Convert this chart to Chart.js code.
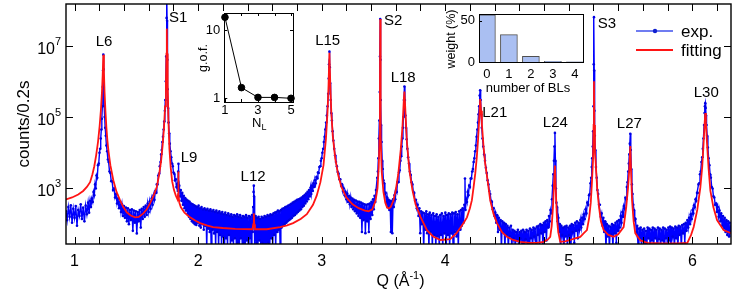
<!DOCTYPE html>
<html><head><meta charset="utf-8">
<script src="https://cdn.jsdelivr.net/npm/chart.js@4.4.1/dist/chart.umd.min.js"></script>
<style>
html,body{margin:0;padding:0;background:#fff;}
#wrap{position:relative;width:747px;height:295px;overflow:hidden;}
canvas{position:absolute;}
</style></head><body>
<div id="wrap">
<canvas id="main" width="747" height="295" style="left:0;top:0"></canvas>
<canvas id="gof" width="110" height="132" style="left:192px;top:0"></canvas>
<canvas id="bls" width="150" height="100" style="left:440px;top:0"></canvas>
</div>
<script>
// ---------------- data ----------------
const expPoints = [
[0.931,230],[0.940,130],[0.950,300],[0.960,160],[0.970,340],[0.980,110],[0.990,270],[1.000,150],[1.010,320],[1.020,90],
[1.030,250],[1.040,170],[1.050,360],[1.060,140],[1.070,290],[1.080,120],[1.090,330],[1.100,190],[1.110,400],[1.118,210],
[1.126,450],[1.133,300],[1.140,520],[1.147,420],[1.154,800],[1.160,650],[1.166,1300],[1.172,1000],[1.178,2300],[1.184,2000],
[1.190,4500],[1.196,5000],[1.202,10000],[1.207,13000],[1.212,25000],[1.217,45000],[1.221,90000],[1.225,200000],[1.229,700000],[1.231,2000000],
[1.233,5600000],[1.235,2200000],[1.237,700000],[1.240,200000],[1.244,100000],[1.248,50000],[1.253,30000],[1.258,16000],[1.264,11000],[1.270,6500],
[1.276,5500],[1.283,3000],[1.290,2700],[1.297,1600],[1.304,1600],[1.312,900],[1.320,1000],[1.328,560],[1.336,700],[1.344,380],
[1.352,520],[1.360,280],[1.368,430],[1.376,220],[1.384,360],[1.392,170],[1.400,320],[1.408,150],[1.416,290],[1.424,120],
[1.432,280],[1.440,100],[1.448,250],[1.456,130],[1.464,260],[1.472,65],[1.480,240],[1.488,110],[1.496,230],[1.504,55],
[1.512,220],[1.520,120],[1.528,250],[1.536,80],[1.544,270],[1.552,140],[1.560,300],[1.568,160],[1.576,330],[1.584,180],
[1.592,380],[1.600,220],[1.608,430],[1.616,270],[1.624,520],[1.632,350],[1.640,650],[1.647,480],[1.654,850],[1.660,750],
[1.666,1300],[1.672,1300],[1.678,2300],[1.684,2600],[1.690,4200],[1.696,5500],[1.701,9000],[1.706,12000],[1.711,20000],[1.716,28000],
[1.721,45000],[1.726,75000],[1.731,150000],[1.735,300000],[1.739,1000000],[1.742,5000000],[1.745,60000000],[1.747,300000000],[1.749,50000000],[1.751,4000000],
[1.754,600000],[1.757,180000],[1.761,70000],[1.766,35000],[1.771,18000],[1.777,11000],[1.783,7500],[1.789,5000],[1.795,4200],[1.801,2800],
[1.807,2600],[1.813,1700],[1.819,1800],[1.825,1100],[1.831,1300],[1.836,850],[1.839,3000],[1.841,4900],[1.843,900],[1.848,1200],
[1.854,600],[1.860,900],[1.866,450],[1.872,750],[1.878,350],[1.884,620],[1.890,280],[1.896,540],[1.902,240],[1.908,480],
[1.914,190],[1.920,450],[1.926,160],[1.932,420],[1.938,140],[1.944,380],[1.950,120],[1.956,360],[1.962,110],[1.968,340],
[1.974,100],[1.980,320],[1.986,95],[1.992,300],[1.998,110],[2.004,330],[2.010,90],[2.016,280],[2.022,80],[2.028,300],
[2.034,100],[2.040,260],[2.046,70],[2.052,280],[2.058,90],[2.064,250],[2.070,20],[2.076,270],[2.082,75],[2.088,240],
[2.094,60],[2.100,260],[2.106,20],[2.112,230],[2.118,70],[2.124,250],[2.130,55],[2.136,220],[2.142,20],[2.148,240],
[2.154,60],[2.160,210],[2.166,20],[2.172,230],[2.178,50],[2.184,200],[2.190,20],[2.196,220],[2.202,45],[2.208,190],
[2.214,20],[2.220,210],[2.226,40],[2.232,180],[2.238,20],[2.244,200],[2.250,50],[2.256,170],[2.262,20],[2.268,190],
[2.274,35],[2.280,160],[2.286,20],[2.292,180],[2.298,40],[2.304,170],[2.310,20],[2.316,190],[2.322,30],[2.328,160],
[2.334,20],[2.340,180],[2.346,40],[2.352,150],[2.358,20],[2.364,170],[2.370,30],[2.376,160],[2.382,20],[2.388,180],
[2.394,35],[2.400,150],[2.406,20],[2.412,170],[2.418,40],[2.424,160],[2.430,20],[2.436,180],[2.442,60],[2.446,300],
[2.449,800],[2.451,1200],[2.453,600],[2.456,150],[2.460,20],[2.466,170],[2.472,30],[2.478,150],[2.484,20],[2.490,160],
[2.496,35],[2.502,140],[2.508,20],[2.514,160],[2.520,30],[2.526,150],[2.532,20],[2.538,170],[2.544,25],[2.550,160],
[2.556,20],[2.562,180],[2.568,30],[2.574,170],[2.580,20],[2.586,190],[2.592,40],[2.598,180],[2.604,20],[2.610,200],
[2.616,50],[2.622,210],[2.628,20],[2.634,220],[2.640,60],[2.646,240],[2.652,70],[2.658,230],[2.664,20],[2.670,250],
[2.676,80],[2.682,270],[2.688,90],[2.694,280],[2.700,100],[2.706,300],[2.712,110],[2.718,310],[2.724,120],[2.730,330],
[2.736,130],[2.742,350],[2.748,140],[2.754,370],[2.760,150],[2.766,400],[2.772,170],[2.778,420],[2.784,180],[2.790,450],
[2.796,200],[2.802,480],[2.808,220],[2.814,500],[2.820,240],[2.826,520],[2.832,260],[2.838,560],[2.844,300],[2.850,600],
[2.856,330],[2.862,650],[2.868,380],[2.874,720],[2.880,430],[2.886,800],[2.892,500],[2.898,900],[2.904,600],[2.910,1050],
[2.916,700],[2.922,1200],[2.928,850],[2.934,1400],[2.940,1100],[2.946,1700],[2.952,1400],[2.958,2100],[2.964,1900],[2.970,2800],
[2.976,2700],[2.982,4000],[2.988,4200],[2.994,6000],[3.000,7000],[3.006,10000],[3.012,13000],[3.018,20000],[3.024,28000],[3.030,45000],
[3.036,70000],[3.042,110000],[3.048,200000],[3.053,450000],[3.057,1200000],[3.060,3000000],[3.063,6800000],[3.066,2500000],[3.069,900000],[3.073,300000],
[3.078,130000],[3.083,80000],[3.089,40000],[3.095,22000],[3.102,13000],[3.109,8500],[3.116,5500],[3.123,4200],[3.130,2900],[3.137,2600],
[3.144,1800],[3.151,1800],[3.158,1200],[3.165,1300],[3.172,850],[3.179,1000],[3.186,650],[3.193,800],[3.200,500],[3.207,720],
[3.214,420],[3.221,620],[3.228,360],[3.235,560],[3.242,300],[3.249,520],[3.256,260],[3.263,480],[3.270,230],[3.277,460],
[3.284,200],[3.291,430],[3.298,170],[3.305,420],[3.312,150],[3.319,400],[3.326,60],[3.333,380],[3.340,130],[3.347,360],
[3.354,56],[3.361,350],[3.368,120],[3.375,360],[3.382,60],[3.389,380],[3.396,140],[3.403,420],[3.410,180],[3.416,500],
[3.422,260],[3.428,620],[3.434,420],[3.440,900],[3.445,900],[3.450,2000],[3.455,3000],[3.459,7000],[3.463,25000],[3.467,80000],
[3.470,500000],[3.472,5000000],[3.474,56000000],[3.476,4000000],[3.478,300000],[3.481,60000],[3.485,20000],[3.490,6000],[3.495,3500],[3.500,1700],
[3.506,1400],[3.512,700],[3.518,750],[3.524,400],[3.530,560],[3.536,300],[3.542,480],[3.548,250],[3.554,450],[3.560,60],
[3.566,440],[3.572,56],[3.578,500],[3.584,300],[3.590,650],[3.596,500],[3.602,900],[3.608,800],[3.614,1500],[3.620,1500],
[3.626,2800],[3.632,3200],[3.638,6000],[3.643,8000],[3.648,15000],[3.653,25000],[3.658,50000],[3.662,100000],[3.666,300000],[3.670,720000],
[3.674,300000],[3.678,110000],[3.683,50000],[3.688,24000],[3.694,13000],[3.700,7500],[3.707,5000],[3.714,3000],[3.721,2400],[3.728,1500],
[3.735,1300],[3.742,800],[3.749,750],[3.756,450],[3.763,480],[3.770,280],[3.777,350],[3.784,170],[3.791,280],[3.798,56],
[3.805,230],[3.812,100],[3.819,210],[3.826,20],[3.833,200],[3.840,70],[3.847,230],[3.854,56],[3.861,190],[3.868,20],
[3.875,210],[3.882,60],[3.889,180],[3.896,20],[3.903,200],[3.910,50],[3.917,170],[3.924,20],[3.931,190],[3.938,45],
[3.945,160],[3.952,20],[3.959,180],[3.966,50],[3.973,200],[3.980,20],[3.987,170],[3.994,55],[4.001,210],[4.008,20],
[4.015,180],[4.022,50],[4.029,200],[4.036,20],[4.043,190],[4.050,55],[4.057,210],[4.064,20],[4.071,200],[4.078,60],
[4.085,220],[4.092,45],[4.099,190],[4.106,20],[4.113,230],[4.120,70],[4.127,250],[4.134,90],[4.141,280],[4.148,110],
[4.155,350],[4.160,1900],[4.164,250],[4.170,500],[4.176,420],[4.182,800],[4.188,650],[4.194,1200],[4.200,1100],[4.206,1900],
[4.212,1900],[4.218,3000],[4.224,3500],[4.230,5500],[4.236,7000],[4.242,11000],[4.248,16000],[4.254,28000],[4.260,45000],[4.265,70000],
[4.270,120000],[4.275,200000],[4.279,400000],[4.283,560000],[4.287,300000],[4.291,120000],[4.296,50000],[4.302,25000],[4.308,15000],[4.315,9000],
[4.322,6000],[4.329,3800],[4.336,2700],[4.343,1700],[4.350,1300],[4.357,850],[4.364,700],[4.371,450],[4.378,420],[4.385,260],
[4.392,280],[4.399,170],[4.406,210],[4.413,110],[4.420,180],[4.427,60],[4.434,150],[4.441,70],[4.448,130],[4.455,20],
[4.462,120],[4.469,60],[4.476,110],[4.483,20],[4.490,100],[4.497,50],[4.504,90],[4.511,20],[4.518,80],[4.525,45],
[4.532,90],[4.539,20],[4.546,70],[4.553,40],[4.560,65],[4.567,20],[4.574,60],[4.581,35],[4.588,70],[4.595,20],
[4.602,60],[4.609,40],[4.616,65],[4.623,20],[4.630,70],[4.637,20],[4.644,60],[4.651,38],[4.658,70],[4.665,20],
[4.672,65],[4.679,20],[4.686,75],[4.693,40],[4.700,70],[4.707,20],[4.714,80],[4.721,45],[4.728,75],[4.735,20],
[4.742,85],[4.749,50],[4.756,90],[4.763,20],[4.770,100],[4.777,55],[4.784,95],[4.791,20],[4.798,110],[4.805,60],
[4.812,120],[4.819,35],[4.826,130],[4.833,80],[4.840,170],[4.846,120],[4.852,250],[4.858,200],[4.864,500],[4.870,1200],
[4.875,2500],[4.880,6000],[4.884,15000],[4.888,36000],[4.892,6000],[4.896,1000],[4.900,400],[4.905,300],[4.910,120],[4.916,150],
[4.922,60],[4.928,100],[4.934,20],[4.940,90],[4.947,50],[4.954,80],[4.961,20],[4.968,85],[4.975,45],[4.982,90],
[4.989,20],[4.996,80],[5.003,50],[5.010,90],[5.017,20],[5.024,100],[5.031,60],[5.038,95],[5.045,30],[5.052,110],
[5.059,65],[5.066,120],[5.073,40],[5.080,110],[5.087,70],[5.094,130],[5.101,80],[5.108,150],[5.115,100],[5.122,190],
[5.129,140],[5.136,260],[5.143,200],[5.150,400],[5.157,350],[5.164,650],[5.170,700],[5.176,1400],[5.181,2000],[5.186,4000],
[5.190,7000],[5.194,15000],[5.197,40000],[5.200,200000],[5.202,3000000],[5.204,63000000],[5.206,2000000],[5.208,150000],[5.211,30000],[5.215,12000],
[5.220,4000],[5.226,2000],[5.232,900],[5.238,700],[5.245,350],[5.252,350],[5.259,160],[5.266,200],[5.273,90],[5.280,150],
[5.287,60],[5.294,120],[5.301,20],[5.308,100],[5.315,45],[5.322,90],[5.329,20],[5.336,85],[5.343,50],[5.350,100],
[5.357,20],[5.364,95],[5.371,55],[5.378,110],[5.385,30],[5.392,120],[5.399,65],[5.406,130],[5.413,80],[5.420,170],
[5.427,110],[5.434,220],[5.440,160],[5.446,320],[5.452,280],[5.458,550],[5.464,500],[5.470,1100],[5.476,1500],[5.481,3000],
[5.486,5000],[5.490,9000],[5.494,18000],[5.498,34000],[5.502,12000],[5.506,3500],[5.511,1300],[5.516,700],[5.522,350],[5.528,250],
[5.534,130],[5.540,140],[5.547,60],[5.554,90],[5.561,20],[5.568,75],[5.575,40],[5.582,80],[5.589,20],[5.596,70],
[5.603,35],[5.610,75],[5.617,20],[5.624,65],[5.631,20],[5.638,80],[5.645,40],[5.652,75],[5.659,20],[5.666,70],
[5.673,35],[5.680,80],[5.687,20],[5.694,75],[5.701,40],[5.708,70],[5.715,20],[5.722,80],[5.729,38],[5.736,75],
[5.743,20],[5.750,70],[5.757,35],[5.764,80],[5.771,20],[5.778,75],[5.785,40],[5.792,70],[5.799,20],[5.806,80],
[5.813,35],[5.820,85],[5.827,20],[5.834,80],[5.841,45],[5.848,75],[5.855,20],[5.862,85],[5.869,40],[5.876,80],
[5.883,20],[5.890,90],[5.897,50],[5.904,85],[5.911,20],[5.918,95],[5.925,55],[5.932,100],[5.939,30],[5.946,110],
[5.953,65],[5.960,130],[5.967,80],[5.974,150],[5.981,100],[5.988,190],[5.995,140],[6.002,250],[6.008,200],[6.014,340],
[6.020,300],[6.026,500],[6.032,450],[6.038,750],[6.044,750],[6.050,1300],[6.056,1400],[6.062,2500],[6.068,3000],[6.074,5500],
[6.080,7500],[6.085,13000],[6.090,25000],[6.095,60000],[6.099,130000],[6.102,200000],[6.105,245000],[6.108,180000],[6.111,110000],[6.115,60000],
[6.120,30000],[6.126,14000],[6.132,7000],[6.138,4500],[6.144,2500],[6.150,2000],[6.157,1100],[6.164,1000],[6.171,600],[6.178,560],
[6.185,350],[6.192,380],[6.199,220],[6.206,300],[6.213,160],[6.220,240],[6.227,120],[6.234,200],[6.241,90],[6.248,170],
[6.255,75],[6.262,150],[6.269,60],[6.276,130],[6.283,50],[6.290,120],[6.297,45],[6.304,110],[6.313,60]
];

const fitPoints = [
[0.931,490],[0.98,560],[1.03,680],[1.07,850],[1.10,1100],[1.126,1500],[1.145,2500],[1.16,4200],[1.175,8500],[1.19,20000],
[1.203,55000],[1.213,150000],[1.222,500000],[1.228,1500000],[1.233,5600000],[1.238,1800000],[1.243,500000],[1.25,150000],[1.258,50000],[1.266,22000],
[1.275,11000],[1.29,4500],[1.314,1700],[1.34,800],[1.368,470],[1.395,300],[1.423,215],[1.455,175],[1.49,155],[1.52,160],
[1.557,200],[1.585,260],[1.611,380],[1.64,630],[1.666,1100],[1.685,2500],[1.70,5600],[1.713,16000],[1.724,50000],[1.733,200000],
[1.74,1000000],[1.744,6000000],[1.747,30000000],[1.75,6000000],[1.754,800000],[1.76,80000],[1.768,13000],[1.778,4000],[1.79,1600],[1.805,900],
[1.82,630],[1.833,500],[1.838,700],[1.84,3000],[1.842,700],[1.848,400],[1.86,300],[1.89,210],[1.935,155],[1.98,125],
[2.016,107],[2.07,93],[2.121,83],[2.2,78],[2.3,74],[2.44,72],[2.447,100],[2.451,200],[2.455,100],[2.46,72],
[2.556,72],[2.664,83],[2.72,93],[2.769,107],[2.83,140],[2.88,190],[2.93,350],[2.96,630],[2.99,1500],[3.015,4500],
[3.035,25000],[3.048,150000],[3.056,800000],[3.063,6300000],[3.07,800000],[3.078,140000],[3.09,30000],[3.11,7000],[3.135,2300],[3.16,1100],
[3.2,560],[3.25,360],[3.3,280],[3.35,240],[3.38,230],[3.41,260],[3.436,450],[3.452,1000],[3.462,4000],[3.469,30000],
[3.472,1000000],[3.474,56000000],[3.476,1000000],[3.479,30000],[3.486,3000],[3.5,800],[3.515,400],[3.53,290],[3.545,275],[3.56,310],
[3.58,450],[3.6,900],[3.62,2500],[3.64,12000],[3.655,60000],[3.665,300000],[3.67,520000],[3.676,200000],[3.69,20000],[3.71,3200],
[3.735,900],[3.76,360],[3.8,160],[3.852,68],[3.9,46],[3.96,36],[4.04,38],[4.09,55],[4.121,78],[4.15,110],
[4.176,155],[4.2,280],[4.216,470],[4.23,1100],[4.243,2600],[4.255,7000],[4.265,21000],[4.276,100000],[4.283,320000],[4.29,150000],
[4.297,63000],[4.31,15000],[4.324,4900],[4.34,2000],[4.364,470],[4.39,200],[4.419,107],[4.46,60],[4.5,44],[4.55,36],
[4.607,32],[4.68,30],[4.743,30],[4.796,32],[4.83,37],[4.85,44],[4.862,90],[4.872,300],[4.88,1200],[4.888,4400],
[4.895,900],[4.904,155],[4.915,60],[4.931,32],[4.97,33],[5.012,36],[5.05,40],[5.093,44],[5.12,55],[5.147,68],
[5.165,150],[5.178,400],[5.188,1600],[5.196,6000],[5.201,60000],[5.204,1000000],[5.207,60000],[5.212,10000],[5.217,6000],[5.23,1000],
[5.245,300],[5.26,120],[5.282,68],[5.32,50],[5.363,44],[5.4,52],[5.444,83],[5.465,300],[5.48,1070],[5.49,3500],
[5.498,15500],[5.505,2500],[5.512,470],[5.525,120],[5.538,56],[5.58,35],[5.636,30],[5.75,29],[5.88,29],[5.96,30],
[5.99,50],[6.011,83],[6.04,250],[6.065,1070],[6.08,4000],[6.091,17800],[6.1,70000],[6.105,130000],[6.11,70000],[6.119,17800],
[6.132,3500],[6.146,870],[6.17,300],[6.2,130],[6.253,68],[6.313,56]
];

const peakLabels      = ['L6','S1','L9','L12','L15','S2','L18','L21','L24','S3','L27','L30'];
const peakLabelQ      = [1.239,1.838,1.927,2.445,3.049,3.579,3.660,4.401,4.891,5.308,5.490,6.113];
const peakLabelCounts = [1.29e7,6.0e7,7000,2150,1.33e7,4.9e7,1.29e6,1.29e5,7.1e4,4.2e7,6.6e4,4.9e5];

const xTickValues = [1,2,3,4,5,6];
const xTickLabels = ['1','2','3','4','5','6'];
const yTickExponents = [3,5,7];

const gofN = [1,2,3,4,5];
const gofValues = [15.4,1.42,1.02,1.02,0.99];
const gofXTickLabels = ['1','3','5'];
const gofYTickValues = [1,10];

const blsCategories = [0,1,2,3,4];
const blsWeights = [57,33,7,0.8,0.3];
const blsYTickValues = [0,50];

// ---------------- drawing ----------------
const FONT = '"Liberation Sans", Arial, Helvetica, sans-serif';
function setFont(ctx, size){ ctx.font = size + 'px ' + FONT; }

const mainDecor = {
  id: 'mainDecor',
  afterDatasetsDraw(chart){
    const {ctx, chartArea:a, scales:{x, y}} = chart;
    ctx.save();
    ctx.strokeStyle = '#000'; ctx.fillStyle = '#000';
    ctx.lineWidth = 1.4;
    ctx.strokeRect(a.left, a.top, a.right - a.left, a.bottom - a.top);
    ctx.lineWidth = 1;
    ctx.beginPath();
    for (let k = 5; k <= 31; k++) {
      const px = Math.round(x.getPixelForValue(k / 5)) + 0.5;
      if (px <= a.left || px >= a.right) continue;
      ctx.moveTo(px, a.bottom); ctx.lineTo(px, a.bottom - 7);
      ctx.moveTo(px, a.top); ctx.lineTo(px, a.top + 7);
    }
    for (const e of yTickExponents) {
      const py = Math.round(y.getPixelForValue(Math.pow(10, e))) + 0.5;
      ctx.moveTo(a.left, py); ctx.lineTo(a.left + 7, py);
      ctx.moveTo(a.right, py); ctx.lineTo(a.right - 7, py);
    }
    ctx.stroke();
    // x tick labels
    setFont(ctx, 16); ctx.textAlign = 'center'; ctx.textBaseline = 'alphabetic';
    xTickValues.forEach((v, i) => ctx.fillText(xTickLabels[i], x.getPixelForValue(v), 265.5));
    // y tick labels 10^n
    yTickExponents.forEach(e => {
      const py = y.getPixelForValue(Math.pow(10, e));
      setFont(ctx, 16); ctx.textAlign = 'right';
      ctx.fillText('10', a.left - 11, py + 8);
      setFont(ctx, 11); ctx.textAlign = 'left';
      ctx.fillText(String(e), a.left - 11, py - 1);
    });
    // axis titles
    ctx.save();
    ctx.translate(24, 124); ctx.rotate(-Math.PI / 2);
    setFont(ctx, 17); ctx.textAlign = 'center'; ctx.textBaseline = 'middle';
    ctx.fillText('counts/0.2s', 0, 0);
    ctx.restore();
    setFont(ctx, 16);
    const p1 = 'Q (Å', p3 = ')';
    const w1 = ctx.measureText(p1).width, w3 = ctx.measureText(p3).width;
    setFont(ctx, 11); const w2 = ctx.measureText('-1').width;
    let sx = (a.left + a.right) / 2 - (w1 + w2 + w3) / 2 + 2;
    ctx.textAlign = 'left';
    setFont(ctx, 16); ctx.fillText(p1, sx, 286);
    setFont(ctx, 11); ctx.fillText('-1', sx + w1, 279);
    setFont(ctx, 16); ctx.fillText(p3, sx + w1 + w2, 286);
    // peak labels
    setFont(ctx, 15); ctx.textAlign = 'center'; ctx.textBaseline = 'middle';
    peakLabels.forEach((t, i) => ctx.fillText(t, x.getPixelForValue(peakLabelQ[i]), y.getPixelForValue(peakLabelCounts[i])));
    // legend
    ctx.lineWidth = 2;
    ctx.strokeStyle = 'rgba(95,110,240,0.9)';
    ctx.beginPath(); ctx.moveTo(636, 31); ctx.lineTo(673, 31); ctx.stroke();
    ctx.fillStyle = '#1020d0';
    ctx.beginPath(); ctx.arc(655, 31, 2.2, 0, Math.PI * 2); ctx.fill();
    ctx.strokeStyle = '#ff1414';
    ctx.beginPath(); ctx.moveTo(636, 50); ctx.lineTo(673, 50); ctx.stroke();
    ctx.fillStyle = '#000';
    setFont(ctx, 17); ctx.textAlign = 'left'; ctx.textBaseline = 'middle';
    ctx.fillText('exp.', 681, 32);
    ctx.fillText('fitting', 681, 51);
    ctx.restore();
  }
};

new Chart(document.getElementById('main'), {
  type: 'line',
  data: {
    datasets: [
      { label: 'fitting', data: fitPoints.map(p => ({x: p[0], y: p[1]})),
        borderColor: '#ff1414', borderWidth: 1.8, pointRadius: 0, tension: 0, order: 1 },
      { label: 'exp.', data: expPoints.map(p => ({x: p[0], y: p[1]})),
        borderColor: '#0000ff', borderWidth: 1.4, pointRadius: 1.3, pointBorderWidth: 0,
        pointBackgroundColor: '#0000e0', tension: 0, order: 2 }
    ]
  },
  options: {
    responsive: false, animation: false, devicePixelRatio: 1,
    layout: { padding: { left: 66, top: 2, right: 16, bottom: 51 } },
    plugins: { legend: { display: false }, tooltip: { enabled: false } },
    scales: {
      x: { type: 'linear', min: 0.931, max: 6.313, display: false },
      y: { type: 'logarithmic', min: 27.8, max: 1.47e8, display: false }
    }
  },
  plugins: [mainDecor]
});

// ---- inset 1: goodness of fit ----
const gofDecor = {
  id: 'gofDecor',
  afterDatasetsDraw(chart){
    const {ctx, chartArea:a, scales:{x, y}} = chart;
    ctx.save();
    ctx.strokeStyle = '#000'; ctx.fillStyle = '#000'; ctx.lineWidth = 1;
    ctx.strokeRect(Math.round(a.left) + 0.5, Math.round(a.top) + 0.5, Math.round(a.right - a.left), Math.round(a.bottom - a.top));
    ctx.beginPath();
    gofN.forEach(n => { const px = Math.round(x.getPixelForValue(n)) + 0.5;
      ctx.moveTo(px, a.bottom); ctx.lineTo(px, a.bottom - 3); ctx.moveTo(px, a.top); ctx.lineTo(px, a.top + 3); });
    gofYTickValues.forEach(v => { const py = Math.round(y.getPixelForValue(v)) + 0.5;
      ctx.moveTo(a.left, py); ctx.lineTo(a.left + 3, py); ctx.moveTo(a.right, py); ctx.lineTo(a.right - 3, py); });
    ctx.stroke();
    setFont(ctx, 13); ctx.textAlign = 'center'; ctx.textBaseline = 'alphabetic';
    gofXTickLabels.forEach(t => ctx.fillText(t, x.getPixelForValue(+t), 114));
    ctx.textAlign = 'right'; ctx.textBaseline = 'middle';
    gofYTickValues.forEach(v => ctx.fillText(String(v), a.left - 4, y.getPixelForValue(v)));
    setFont(ctx, 13); ctx.textAlign = 'left'; ctx.textBaseline = 'alphabetic';
    ctx.fillText('N', 60, 127);
    setFont(ctx, 9); ctx.fillText('L', 69.5, 130);
    ctx.save(); ctx.translate(12, 58); ctx.rotate(-Math.PI / 2);
    setFont(ctx, 12.5); ctx.textAlign = 'center'; ctx.textBaseline = 'middle';
    ctx.fillText('g.o.f.', 0, 0); ctx.restore();
    ctx.restore();
  }
};
new Chart(document.getElementById('gof'), {
  type: 'line',
  data: { datasets: [{ data: gofN.map((n, i) => ({x: n, y: gofValues[i]})),
    borderColor: '#000', borderWidth: 1, pointRadius: 3.3, pointBackgroundColor: '#000',
    pointBorderColor: '#000', tension: 0, clip: false }] },
  options: {
    responsive: false, animation: false, devicePixelRatio: 1,
    layout: { padding: { left: 32.3, top: 13, right: 9, bottom: 30 } },
    plugins: { legend: { display: false }, tooltip: { enabled: false } },
    scales: {
      x: { type: 'linear', min: 0.96, max: 5.12, display: false },
      y: { type: 'logarithmic', min: 0.873, max: 17.8, display: false }
    }
  },
  plugins: [gofDecor]
});

// ---- inset 2: weight of bilayers ----
const blsDecor = {
  id: 'blsDecor',
  afterDatasetsDraw(chart){
    const {ctx, chartArea:a, scales:{x, y}} = chart;
    ctx.save();
    ctx.strokeStyle = '#000'; ctx.fillStyle = '#000'; ctx.lineWidth = 1;
    ctx.strokeRect(Math.round(a.left) + 0.5, Math.round(a.top) + 0.5, Math.round(a.right - a.left), Math.round(a.bottom - a.top));
    ctx.beginPath();
    blsYTickValues.forEach(v => { const py = Math.round(y.getPixelForValue(v)) + 0.5;
      ctx.moveTo(a.left, py); ctx.lineTo(a.left + 3, py); });
    ctx.stroke();
    setFont(ctx, 13); ctx.textAlign = 'center'; ctx.textBaseline = 'alphabetic';
    blsCategories.forEach(c => ctx.fillText(String(c), x.getPixelForValue(c), 78));
    ctx.textAlign = 'right'; ctx.textBaseline = 'middle';
    blsYTickValues.forEach(v => ctx.fillText(String(v), a.left - 4, y.getPixelForValue(v)));
    ctx.textAlign = 'center'; ctx.textBaseline = 'alphabetic';
    ctx.fillText('number of BLs', 88, 92);
    ctx.save(); ctx.translate(12, 39); ctx.rotate(-Math.PI / 2);
    setFont(ctx, 12.5); ctx.textAlign = 'center'; ctx.textBaseline = 'middle';
    ctx.fillText('weight (%)', 0, 0); ctx.restore();
    ctx.restore();
  }
};
new Chart(document.getElementById('bls'), {
  type: 'bar',
  data: { datasets: [{ data: blsCategories.map((c, i) => ({x: c, y: blsWeights[i]})),
    backgroundColor: '#aabff2', borderColor: '#505050', borderWidth: 1, barThickness: 17 }] },
  options: {
    responsive: false, animation: false, devicePixelRatio: 1,
    layout: { padding: { left: 39, top: 14, right: 7, bottom: 38 } },
    plugins: { legend: { display: false }, tooltip: { enabled: false } },
    scales: {
      x: { type: 'linear', min: -0.36, max: 4.37, offset: false, display: false },
      y: { type: 'linear', min: 0, max: 58, display: false }
    }
  },
  plugins: [blsDecor]
});
</script>
</body></html>
